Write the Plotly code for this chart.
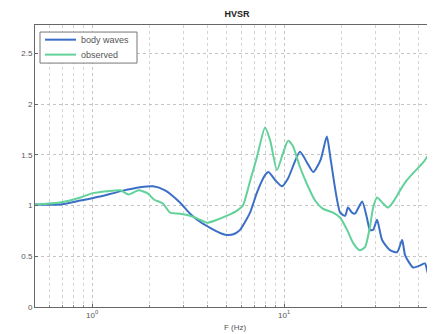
import plotly.graph_objects as go

# body waves
bw_freq = [0.5, 0.68, 0.87, 1.1, 1.4, 1.78, 2.08, 2.4, 2.87, 3.24, 3.65, 4.12, 4.64, 5.05, 5.5, 5.9,
           6.65, 7.23, 7.96, 8.3, 9.0, 9.77, 10.5, 12.1, 13.2, 14.2, 15.5, 16.7, 17.5, 19.6, 20.8,
           21.5, 22.6, 23.4, 25.5, 27.0, 28.0, 29.1, 30.5, 32.4, 35.6, 38.8, 41.2, 42.7, 47.0,
           51.1, 54.2, 56.2, 61.1]
bw_hvsr = [1.01, 1.01, 1.05, 1.09, 1.14, 1.18, 1.19, 1.15, 1.03, 0.92, 0.84, 0.78, 0.73, 0.71, 0.72, 0.76,
           0.93, 1.13, 1.3, 1.33, 1.25, 1.19, 1.27, 1.53, 1.42, 1.33, 1.45, 1.68, 1.45, 0.93, 0.9,
           0.98, 0.93, 0.92, 1.04, 0.88, 0.76, 0.76, 0.86, 0.66, 0.56, 0.54, 0.66, 0.51, 0.39,
           0.41, 0.43, 0.33, 0.25]

# observed
ob_freq = [0.5, 0.68, 0.87, 1.0, 1.2, 1.4, 1.55, 1.75, 1.95, 2.1, 2.34, 2.55, 2.87, 3.24, 3.65, 3.97,
           4.48, 5.05, 5.69, 6.1, 6.65, 7.23, 7.96, 8.47, 9.18, 9.89, 10.5, 11.1, 12.1, 13.1, 14.5,
           15.9, 18.0, 19.6, 21.3, 22.9, 24.8, 26.4, 28.0, 29.1, 30.5, 32.8, 34.7, 36.8, 40.2,
           43.6, 47.0, 52.8, 57.6, 61.1]
ob_hvsr = [1.01, 1.03, 1.08, 1.12, 1.14, 1.15, 1.11, 1.15, 1.12, 1.06, 1.02, 0.93, 0.92, 0.90, 0.86, 0.83,
           0.86, 0.90, 0.95, 1.0, 1.24, 1.48, 1.77, 1.64, 1.35, 1.52, 1.64, 1.59, 1.38, 1.22, 1.05,
           0.97, 0.93, 0.88, 0.76, 0.63, 0.56, 0.59, 0.79, 0.98, 1.08, 1.02, 0.98, 1.03, 1.15,
           1.25, 1.32, 1.42, 1.51, 1.28]

series_names = ["body waves", "observed"]
series_colors = ["#3b6fc6", "#62d19a"]
y_ticks = [0, 0.5, 1, 1.5, 2, 2.5]
y_labels = ["0", "0.5", "1", "1.5", "2", "2.5"]
x_ticks = [1, 10]
x_labels = ["10<sup>0</sup>", "10<sup>1</sup>"]
x_minor = [0.6, 0.7, 0.8, 0.9, 2, 3, 4, 5, 6, 7, 8, 9, 20, 30, 40, 50, 60]

fig = go.Figure()
for fx, fy, nm, col in [(bw_freq, bw_hvsr, series_names[0], series_colors[0]),
                        (ob_freq, ob_hvsr, series_names[1], series_colors[1])]:
    fig.add_trace(go.Scatter(x=fx, y=fy, mode="lines", name=nm, showlegend=False,
                             line=dict(color=col, width=2, shape="spline", smoothing=0.6)))

axis_font = dict(family="Liberation Sans", size=8, color="#555")
leg_font = dict(family="Liberation Sans", size=9, color="#555")

# compact legend box (MATLAB style), drawn in paper coordinates
shapes = [dict(type="rect", xref="paper", yref="paper", x0=0.0125, x1=0.255, y0=0.865, y1=0.975,
               line=dict(color="#777", width=1), fillcolor="white", layer="above")]
annotations = []
for i, (nm, col) in enumerate(zip(series_names, series_colors)):
    yy = 0.948 - i * 0.053
    shapes.append(dict(type="line", xref="paper", yref="paper", x0=0.025, x1=0.1025, y0=yy, y1=yy,
                       line=dict(color=col, width=2), layer="above"))
    annotations.append(dict(text=nm, x=0.11, y=yy, xref="paper", yref="paper",
                            xanchor="left", yanchor="middle", showarrow=False, font=leg_font))
annotations.append(dict(text="F (Hz)", x=0.5, y=-0.074, xref="paper", yref="paper",
                        xanchor="center", yanchor="middle", showarrow=False, font=axis_font))

# page body has an 8px margin, so the figure is sized to fill the rest of the window
fig.update_layout(
    width=427, height=326,
    margin=dict(l=27, r=0, t=17, b=27, autoexpand=False),
    paper_bgcolor="white", plot_bgcolor="white",
    title=dict(text="<b>HVSR</b>", x=229/427, xref="container", y=1-6/326, yref="container",
               xanchor="center", yanchor="middle", automargin=False,
               font=dict(family="Liberation Sans", size=9, color="#222")),
    showlegend=False,
    shapes=shapes,
    annotations=annotations,
)
fig.update_xaxes(type="log", range=[-0.297, 1.786], automargin=False,
                 tickvals=x_ticks, ticktext=x_labels, tickfont=axis_font,
                 showline=True, linecolor="#666", linewidth=1, mirror=True,
                 ticks="inside", ticklen=3, tickcolor="#666",
                 showgrid=True, gridcolor="#c4c4c4", griddash="dot", gridwidth=1,
                 minor=dict(tickvals=x_minor, showgrid=True, gridcolor="#d4d4d4", griddash="dot",
                            ticks="inside", ticklen=2, tickcolor="#888"),
                 zeroline=False)
fig.update_yaxes(range=[0, 2.78], automargin=False, tickvals=y_ticks, ticktext=y_labels, tickfont=axis_font,
                 showline=True, linecolor="#666", linewidth=1, mirror=True,
                 ticks="inside", ticklen=3, tickcolor="#666",
                 showgrid=True, gridcolor="#c4c4c4", griddash="dot", gridwidth=1,
                 zeroline=False)

fig.write_html("out.html")
